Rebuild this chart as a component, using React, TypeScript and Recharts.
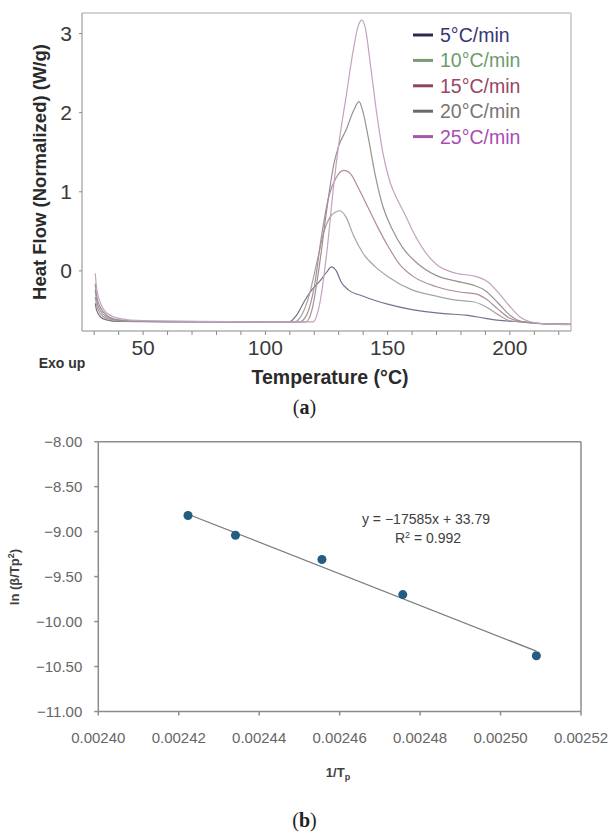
import React from "react";
import {
  LineChart,
  Line,
  XAxis,
  YAxis,
  ReferenceLine,
  ScatterChart,
  Scatter,
} from "recharts";

// (a) DSC curves, one array of [temperature, heat flow] per heating rate
const rateLabels = ["5°C/min", "10°C/min", "15°C/min", "20°C/min", "25°C/min"];
const lineColors = ["#77718e", "#a4a4a0", "#b08c9a", "#9a9292", "#c4a2c0"];
const legendLineColors = ["#2c2a52", "#7a9a72", "#8e4660", "#6e6868", "#a456a8"];
const legendTextColors = ["#3a3474", "#6c9c6c", "#9a4466", "#7a7474", "#a84cb4"];

const curve5: [number, number][] = [
  [30.4, -0.41], [31, -0.5], [32.5, -0.58], [35, -0.62], [40, -0.64], [60, -0.645],
  [100, -0.645], [110, -0.64], [113, -0.55], [116, -0.38], [119, -0.24], [122, -0.14],
  [125, -0.02], [127, 0.05], [129, 0.0], [131, -0.14], [134, -0.24], [140, -0.32],
  [150, -0.42], [160, -0.49], [173, -0.54], [182, -0.56], [190, -0.6], [197, -0.63],
  [205, -0.645], [215, -0.67], [225, -0.675],
];
const curve10: [number, number][] = [
  [30.4, -0.33], [31, -0.44], [32.5, -0.54], [35, -0.6], [40, -0.63], [50, -0.64],
  [100, -0.645], [112, -0.645], [115, -0.55], [118, -0.3], [121, 0.1], [124, 0.5],
  [127, 0.7], [130.5, 0.76], [133, 0.68], [136, 0.45], [140, 0.22], [145, 0.05],
  [150, -0.07], [160, -0.24], [170, -0.32], [178, -0.37], [185, -0.39], [190, -0.45],
  [195, -0.55], [200, -0.63], [205, -0.645], [215, -0.67], [225, -0.675],
];
const curve15: [number, number][] = [
  [30.4, -0.24], [31, -0.38], [32.5, -0.5], [35, -0.58], [40, -0.625], [50, -0.64],
  [100, -0.645], [114, -0.645], [117, -0.55], [120, -0.2], [123, 0.45], [126, 0.95],
  [129, 1.18], [132, 1.27], [135, 1.22], [138, 1.05], [142, 0.8], [146, 0.55],
  [150, 0.32], [155, 0.08], [160, -0.06], [170, -0.2], [180, -0.27], [186, -0.29],
  [190, -0.35], [195, -0.48], [200, -0.6], [205, -0.645], [215, -0.67], [225, -0.675],
];
const curve20: [number, number][] = [
  [30.4, -0.16], [31, -0.32], [32.5, -0.46], [35, -0.56], [40, -0.62], [50, -0.64],
  [100, -0.645], [116.5, -0.645], [119, -0.5], [122, 0.05], [125, 0.75], [128, 1.35],
  [130, 1.58], [133, 1.78], [136, 2.02], [138.3, 2.14], [140, 2.0], [142, 1.7],
  [145, 1.2], [148, 0.82], [152, 0.52], [156, 0.3], [162, 0.1], [170, -0.06],
  [178, -0.13], [185, -0.18], [190, -0.25], [195, -0.4], [200, -0.56], [205, -0.64],
  [215, -0.67], [225, -0.675],
];
const curve25: [number, number][] = [
  [30.4, -0.03], [31, -0.22], [32.5, -0.4], [35, -0.53], [40, -0.6], [50, -0.63],
  [100, -0.645], [119.5, -0.645], [122, -0.45], [125, 0.2], [128, 1.1], [130, 1.6],
  [133, 2.2], [136, 2.8], [138, 3.1], [139.5, 3.17], [141, 3.05], [143, 2.6],
  [145.5, 2.0], [148, 1.5], [151, 1.12], [154, 0.9], [157, 0.72], [160, 0.52],
  [164, 0.3], [170, 0.08], [178, -0.03], [186, -0.07], [191, -0.14], [196, -0.3],
  [200, -0.45], [204, -0.58], [208, -0.64], [215, -0.67], [225, -0.68],
];
const curves = [curve5, curve10, curve15, curve20, curve25];

const tempTicks = [30, 40, 50, 60, 70, 80, 90, 100, 110, 120, 130, 140, 150, 160, 170, 180, 190, 200, 210, 220];
const flowTicks = [0, 1, 2, 3];

// (b) Kissinger plot
const invTp = [0.0024223, 0.0024341, 0.0024556, 0.0024757, 0.0025089];
const lnRate = [-8.82, -9.04, -9.31, -9.7, -10.38];
const fitSlope = -17585;
const fitIntercept = 33.79;
const invTpTicks = [0.0024, 0.00242, 0.00244, 0.00246, 0.00248, 0.0025, 0.00252];
const lnTicks = [-11, -10.5, -10, -9.5, -9, -8.5, -8];

const SANS = '"Liberation Sans", Arial, sans-serif';

const fmtMinus = (v: number) => (v < 0 ? `\u2212${Math.abs(v).toFixed(2)}` : v.toFixed(2));

export default function App() {
  const points = invTp.map((x, i) => ({ x, y: lnRate[i] }));
  const x0 = Math.min(...invTp);
  const x1 = Math.max(...invTp);
  const legendY = [35, 60.4, 85.8, 111.2, 136.6];

  return (
    <div style={{ position: "absolute", left: 0, top: 0, width: 609, height: 838, background: "#fff", fontFamily: SANS }}>
      {/* panel (a) */}
      <div style={{ position: "absolute", left: 0, top: 0 }}>
        <LineChart width={609} height={400} margin={{ top: 13, right: 38, left: 42, bottom: 39 }}>
          <XAxis
            type="number"
            dataKey="t"
            domain={[25, 225]}
            ticks={tempTicks}
            interval={0}
            tickFormatter={(v: number) => (v % 50 === 0 ? String(v) : "")}
            height={30}
            tickSize={4}
            tickMargin={5}
            stroke="#8a8a8a"
            tick={{ fill: "#3a3a3a", fontSize: 21, fontFamily: SANS }}
            allowDataOverflow
          />
          <YAxis
            type="number"
            domain={[-0.76, 3.26]}
            ticks={flowTicks}
            interval={0}
            width={40}
            tickSize={3}
            tickMargin={7}
            stroke="#8a8a8a"
            tick={{ fill: "#3a3a3a", fontSize: 21, fontFamily: SANS }}
            allowDataOverflow
          />
          <ReferenceLine y={3.26} stroke="#c4c4c4" strokeWidth={1.5} />
          <ReferenceLine x={225} stroke="#c4c4c4" strokeWidth={1.5} />
          {curves.map((c, i) => (
            <Line
              key={rateLabels[i]}
              data={c.map(([t, v]) => ({ t, v }))}
              dataKey="v"
              type="monotone"
              stroke={lineColors[i]}
              strokeWidth={1.2}
              dot={false}
              isAnimationActive={false}
            />
          ))}
        </LineChart>
      </div>

      {/* panel (b) */}
      <div style={{ position: "absolute", left: 0, top: 420 }}>
        <ScatterChart width={609} height={418} margin={{ top: 21.7, right: 28, left: 38.3, bottom: 96.5 }}>
          <XAxis
            type="number"
            dataKey="x"
            domain={[0.0024, 0.00252]}
            ticks={invTpTicks}
            interval={0}
            tickFormatter={(v: number) => v.toFixed(5)}
            height={30}
            tickSize={4}
            tickMargin={17}
            stroke="#8c8c8c"
            strokeWidth={1.5}
            tick={{ fill: "#666", fontSize: 15, fontFamily: SANS }}
            allowDataOverflow
          />
          <YAxis
            type="number"
            dataKey="y"
            domain={[-11, -8]}
            ticks={lnTicks}
            interval={0}
            tickFormatter={fmtMinus}
            width={60}
            tickSize={4}
            tickMargin={12}
            stroke="#8c8c8c"
            strokeWidth={1.5}
            tick={{ fill: "#666", fontSize: 15, fontFamily: SANS }}
            allowDataOverflow
          />
          <ReferenceLine y={-8} stroke="#8c8c8c" strokeWidth={1.5} />
          <ReferenceLine x={0.00252} stroke="#8c8c8c" strokeWidth={1.5} />
          <ReferenceLine
            segment={[
              { x: x0, y: fitSlope * x0 + fitIntercept },
              { x: x1, y: fitSlope * x1 + fitIntercept },
            ]}
            stroke="#777"
            strokeWidth={1.2}
          />
          <Scatter data={points} fill="#235d82" isAnimationActive={false} />
        </ScatterChart>
      </div>

      {/* annotation text */}
      <svg width={609} height={838} style={{ position: "absolute", left: 0, top: 0, pointerEvents: "none" }}>
        {rateLabels.map((lab, i) => (
          <g key={lab}>
            <line x1={413} x2={433} y1={legendY[i]} y2={legendY[i]} stroke={legendLineColors[i]} strokeWidth={3} />
            <text x={440} y={legendY[i] + 7} fontSize={19.5} fill={legendTextColors[i]} fontFamily={SANS}>
              {lab}
            </text>
          </g>
        ))}
        <text
          transform="translate(46,172) rotate(-90)"
          textAnchor="middle"
          fontSize={18.5}
          fontWeight={700}
          fill="#2a2a2a"
          fontFamily={SANS}
        >
          Heat Flow (Normalized) (W/g)
        </text>
        <text x={62} y={367.5} textAnchor="middle" fontSize={14} fontWeight={700} fill="#333" fontFamily={SANS}>
          Exo up
        </text>
        <text x={330} y={384} textAnchor="middle" fontSize={19.5} fontWeight={700} fill="#2a2a2a" fontFamily={SANS}>
          Temperature (°C)
        </text>
        <text x={304.5} y={414} textAnchor="middle" fontSize={20} fill="#222" fontFamily="'Liberation Serif', serif">
          (<tspan fontWeight={700}>a</tspan>)
        </text>

        <text x={426} y={524} textAnchor="middle" fontSize={14} fill="#404040" fontFamily={SANS}>
          y = −17585x + 33.79
        </text>
        <text x={428} y={543} textAnchor="middle" fontSize={14} fill="#404040" fontFamily={SANS}>
          R<tspan dy={-5} fontSize={9}>2</tspan>
          <tspan dy={5}> = 0.992</tspan>
        </text>
        <text
          transform="translate(19,577) rotate(-90)"
          textAnchor="middle"
          fontSize={13}
          fontWeight={700}
          fill="#404040"
          fontFamily={SANS}
        >
          ln (β/Tp<tspan dy={-5} fontSize={9}>2</tspan>
          <tspan dy={5}>)</tspan>
        </text>
        <text x={338} y={777} textAnchor="middle" fontSize={13} fontWeight={700} fill="#404040" fontFamily={SANS}>
          1/T<tspan dy={3} fontSize={9}>p</tspan>
        </text>
        <text x={304.5} y={827} textAnchor="middle" fontSize={20} fill="#222" fontFamily="'Liberation Serif', serif">
          (<tspan fontWeight={700}>b</tspan>)
        </text>
      </svg>
    </div>
  );
}
